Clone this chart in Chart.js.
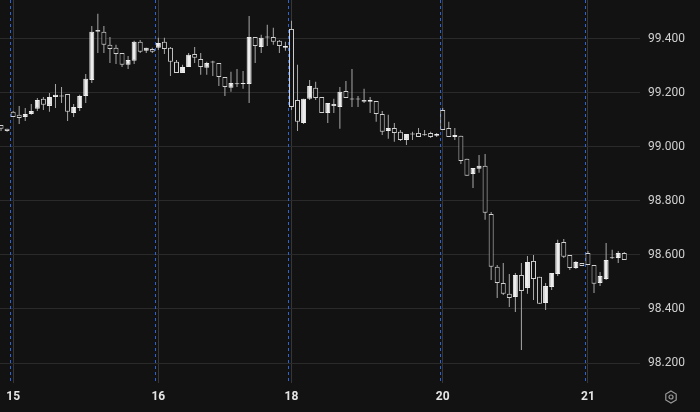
<!DOCTYPE html>
<html lang="en">
<head>
  <meta charset="UTF-8" />
  <title>Candles</title>
  <script src="https://cdn.jsdelivr.net/npm/chart.js"></script>
  <style>
    html, body {
      margin: 0;
      padding: 0;
      background: #121212;
    }

    .wrap {
      position: relative;
      width: 700px;
      height: 412px;
    }

    canvas {
      display: block;
    }

    .gear {
      position: absolute;
      left: 664px;
      top: 390px;
    }
  </style>
</head>
<body>
  <div class="wrap">
    <canvas id="chart" width="700" height="412"></canvas>
    <svg class="gear" width="14" height="14" viewBox="0 0 14 14">
      <polygon points="7,1 12.2,4 12.2,10 7,13 1.8,10 1.8,4" fill="none" stroke="#9a9a9a" stroke-width="1.2"/>
      <circle cx="7" cy="7" r="2" fill="none" stroke="#9a9a9a" stroke-width="1.2"/>
    </svg>
  </div>

  <script>
    const openP = [
      99.081, 99.067, 99.130, 99.119, 99.111, 99.122, 99.141, 99.178, 99.152, 99.185,
      99.187, 99.196, 99.126, 99.144, 99.189, 99.248, 99.433, 99.426, 99.378, 99.367,
      99.348, 99.304, 99.319, 99.389, 99.356, 99.363, 99.367, 99.389, 99.367, 99.315,
      99.274, 99.296, 99.344, 99.326, 99.293, 99.313, 99.311, 99.259, 99.219, 99.232,
      99.233, 99.233, 99.407, 99.370, 99.405, 99.407, 99.393, 99.367, 99.437, 99.174,
      99.089, 99.178, 99.219, 99.185, 99.126, 99.159, 99.148, 99.207, 99.176, 99.179,
      99.174, 99.167, 99.170, 99.122, 99.059, 99.070, 99.056, 99.026, 99.046, 99.052,
      99.043, 99.052, 99.041, 99.137, 99.070, 99.037, 99.041, 98.956, 98.900, 98.919,
      98.930, 98.752, 98.556, 98.496, 98.456, 98.444, 98.526, 98.478, 98.578, 98.519,
      98.422, 98.481, 98.530, 98.648, 98.600, 98.552, 98.570, 98.607, 98.563, 98.496,
      98.511, 98.588, 98.589, 98.607
    ];
    const highP = [
      99.081, 99.067, 99.133, 99.152, 99.144, 99.159, 99.181, 99.185, 99.200, 99.233,
      99.222, 99.196, 99.159, 99.193, 99.270, 99.448, 99.493, 99.448, 99.407, 99.378,
      99.348, 99.337, 99.393, 99.396, 99.367, 99.367, 99.404, 99.404, 99.370, 99.322,
      99.304, 99.348, 99.370, 99.348, 99.315, 99.319, 99.311, 99.259, 99.278, 99.289,
      99.281, 99.485, 99.407, 99.415, 99.452, 99.441, 99.396, 99.389, 99.467, 99.304,
      99.178, 99.248, 99.241, 99.185, 99.163, 99.178, 99.222, 99.244, 99.289, 99.189,
      99.215, 99.185, 99.170, 99.133, 99.119, 99.089, 99.063, 99.048, 99.056, 99.070,
      99.063, 99.056, 99.052, 99.144, 99.093, 99.070, 99.041, 98.956, 98.922, 98.970,
      98.974, 98.759, 98.563, 98.570, 98.530, 98.533, 98.570, 98.596, 98.600, 98.519,
      98.496, 98.533, 98.656, 98.659, 98.600, 98.578, 98.570, 98.615, 98.563, 98.537,
      98.644, 98.619, 98.615, 98.611
    ];
    const lowP = [
      99.059, 99.056, 99.111, 99.085, 99.096, 99.119, 99.133, 99.137, 99.130, 99.144,
      99.163, 99.096, 99.111, 99.133, 99.163, 99.237, 99.348, 99.348, 99.311, 99.307,
      99.296, 99.289, 99.307, 99.348, 99.348, 99.348, 99.359, 99.344, 99.263, 99.274,
      99.274, 99.296, 99.311, 99.267, 99.267, 99.263, 99.226, 99.189, 99.204, 99.222,
      99.215, 99.163, 99.311, 99.348, 99.374, 99.378, 99.348, 99.356, 99.137, 99.059,
      99.085, 99.174, 99.174, 99.126, 99.089, 99.126, 99.067, 99.181, 99.148, 99.148,
      99.163, 99.126, 99.093, 99.044, 99.030, 99.019, 99.022, 99.007, 99.026, 99.037,
      99.041, 99.033, 99.037, 99.063, 99.037, 99.026, 98.937, 98.893, 98.848, 98.904,
      98.730, 98.507, 98.441, 98.452, 98.407, 98.389, 98.248, 98.456, 98.433, 98.419,
      98.396, 98.470, 98.522, 98.589, 98.544, 98.548, 98.559, 98.563, 98.459, 98.485,
      98.507, 98.585, 98.570, 98.581
    ];
    const closeP = [
      99.067, 99.059, 99.111, 99.107, 99.122, 99.133, 99.174, 99.156, 99.185, 99.193,
      99.190, 99.130, 99.148, 99.189, 99.252, 99.426, 99.426, 99.378, 99.363, 99.344,
      99.304, 99.322, 99.389, 99.352, 99.367, 99.352, 99.385, 99.363, 99.315, 99.274,
      99.296, 99.341, 99.330, 99.296, 99.311, 99.316, 99.259, 99.222, 99.237, 99.235,
      99.237, 99.407, 99.374, 99.404, 99.408, 99.389, 99.374, 99.374, 99.148, 99.093,
      99.178, 99.226, 99.181, 99.126, 99.163, 99.152, 99.204, 99.181, 99.179, 99.176,
      99.167, 99.174, 99.122, 99.056, 99.070, 99.052, 99.026, 99.048, 99.049, 99.037,
      99.046, 99.037, 99.048, 99.063, 99.037, 99.044, 98.948, 98.893, 98.922, 98.930,
      98.756, 98.556, 98.496, 98.456, 98.441, 98.526, 98.467, 98.574, 98.511, 98.419,
      98.485, 98.533, 98.644, 98.593, 98.552, 98.574, 98.559, 98.563, 98.493, 98.522,
      98.581, 98.591, 98.607, 98.581
    ];

    // first bar of each day, and its label
    const dayIdx = [2, 26, 48, 73, 97];
    const dayLabels = ['15', '16', '18', '20', '21'];
    const yTicks = [98.2, 98.4, 98.6, 98.8, 99.0, 99.2, 99.4];

    const BG = '#121212';
    const isUp = i => closeP[i] >= openP[i];

    // blue dashed session breaks, just left of each day gridline
    const sessionLines = {
      id: 'sessionLines',
      beforeDatasetsDraw(chart) {
        const { ctx, chartArea, scales } = chart;
        ctx.save();
        ctx.strokeStyle = '#2f63d2';
        ctx.lineWidth = 1;
        ctx.setLineDash([3, 3]);
        dayIdx.forEach(i => {
          const x = Math.round(scales.x.getPixelForValue(i)) - 3 + 0.5;
          ctx.beginPath();
          ctx.moveTo(x, chartArea.top);
          ctx.lineTo(x, chartArea.bottom);
          ctx.stroke();
        });
        ctx.restore();
      }
    };

    new Chart(document.getElementById('chart'), {
      type: 'bar',
      data: {
        datasets: [
          {
            label: 'wick',
            data: openP.map((o, i) => ({ x: i, y: [lowP[i], highP[i]] })),
            backgroundColor: '#a8a8a8',
            borderWidth: 0,
            barThickness: 1,
            grouped: false,
            inflateAmount: 0,
            order: 2
          },
          {
            label: 'body',
            data: openP.map((o, i) => ({ x: i, y: [o, closeP[i]] })),
            backgroundColor: ctx => isUp(ctx.dataIndex) ? '#ededed' : BG,
            borderColor: ctx => isUp(ctx.dataIndex) ? '#ededed' : '#d2d2d2',
            borderWidth: 1,
            borderSkipped: false,
            barThickness: 5,
            minBarLength: 1,
            grouped: false,
            inflateAmount: 0,
            order: 1
          }
        ]
      },
      options: {
        responsive: false,
        animation: false,
        devicePixelRatio: 1,
        layout: { padding: 0 },
        plugins: {
          legend: { display: false },
          tooltip: { enabled: false }
        },
        scales: {
          x: {
            type: 'linear',
            min: -0.17,
            max: 105.6,
            offset: false,
            grid: { color: '#363636', offset: false, drawTicks: false },
            border: { display: false },
            afterBuildTicks: s => { s.ticks = dayIdx.map(v => ({ value: v })); },
            afterFit: s => {
              s.height = 29;
              s.paddingLeft = 0;
              s.paddingRight = 0;
            },
            ticks: {
              padding: 7,
              color: '#e4e4e4',
              font: { family: 'Roboto', size: 12, weight: 'bold' },
              maxRotation: 0,
              autoSkip: false,
              callback: (v, i) => dayLabels[i]
            }
          },
          y: {
            position: 'right',
            min: 98.126,
            max: 99.544,
            grid: { color: '#2a2a2a', drawTicks: false },
            border: { display: false },
            afterBuildTicks: s => { s.ticks = yTicks.map(v => ({ value: v })); },
            afterFit: s => {
              s.width = 60;
              s.paddingTop = 0;
              s.paddingBottom = 0;
            },
            ticks: {
              padding: 8,
              color: '#d0d0d0',
              font: { family: 'Roboto', size: 12 },
              callback: v => v.toFixed(3)
            }
          }
        }
      },
      plugins: [sessionLines]
    });
  </script>
</body>
</html>
